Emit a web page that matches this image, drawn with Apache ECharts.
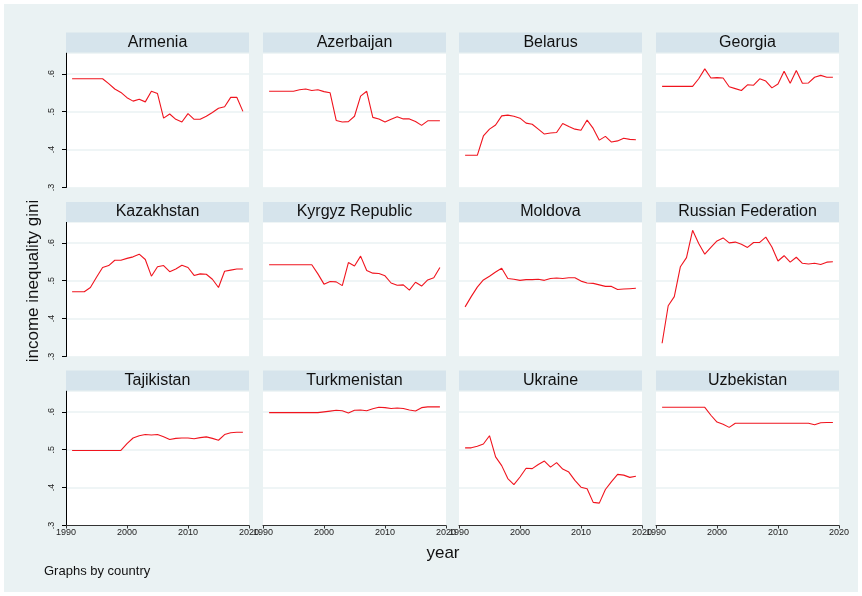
<!DOCTYPE html>
<html><head><meta charset="utf-8">
<script src="https://cdn.jsdelivr.net/npm/echarts@6/dist/echarts.min.js"></script>
<style>html,body{margin:0;padding:0;background:#fff}#c{width:862px;height:596px}</style>
</head><body><div id="c"></div>
<script>
// ---- data ----
const years = [1991,1992,1993,1994,1995,1996,1997,1998,1999,2000,2001,2002,2003,2004,2005,2006,2007,2008,2009,2010,2011,2012,2013,2014,2015,2016,2017,2018,2019];
const countries = ['Armenia','Azerbaijan','Belarus','Georgia','Kazakhstan','Kyrgyz Republic','Moldova','Russian Federation','Tajikistan','Turkmenistan','Ukraine','Uzbekistan'];
const armenia = [0.587,0.587,0.587,0.587,0.587,0.587,0.574,0.560,0.551,0.537,0.528,0.533,0.526,0.554,0.548,0.483,0.494,0.480,0.473,0.495,0.480,0.480,0.488,0.498,0.509,0.513,0.538,0.538,0.501];
const azerbaijan = [0.554,0.554,0.554,0.554,0.554,0.558,0.560,0.556,0.558,0.553,0.550,0.477,0.473,0.474,0.488,0.541,0.554,0.485,0.481,0.473,0.480,0.487,0.481,0.481,0.474,0.464,0.476,0.476,0.476];
const belarus = [0.385,0.385,0.385,0.436,0.454,0.465,0.489,0.491,0.488,0.483,0.470,0.467,0.454,0.441,0.444,0.445,0.469,0.461,0.454,0.451,0.478,0.456,0.425,0.435,0.420,0.423,0.430,0.427,0.426];
const georgia = [0.567,0.567,0.567,0.567,0.567,0.567,0.587,0.613,0.589,0.590,0.589,0.566,0.561,0.556,0.571,0.570,0.587,0.581,0.563,0.573,0.607,0.575,0.609,0.575,0.576,0.591,0.596,0.591,0.591];
const kazakhstan = [0.471,0.471,0.471,0.482,0.509,0.535,0.540,0.554,0.554,0.559,0.563,0.570,0.556,0.512,0.537,0.540,0.524,0.531,0.541,0.535,0.514,0.518,0.517,0.504,0.482,0.525,0.528,0.531,0.531];
const kyrgyz = [0.542,0.542,0.542,0.542,0.542,0.542,0.542,0.542,0.518,0.491,0.498,0.497,0.487,0.548,0.539,0.565,0.527,0.520,0.519,0.513,0.494,0.488,0.489,0.475,0.496,0.486,0.502,0.508,0.535];
const moldova = [0.431,0.458,0.483,0.502,0.512,0.523,0.533,0.506,0.504,0.501,0.503,0.503,0.504,0.501,0.506,0.507,0.506,0.508,0.508,0.499,0.494,0.493,0.489,0.485,0.485,0.477,0.478,0.479,0.480];
const russia = [0.335,0.434,0.458,0.537,0.561,0.633,0.598,0.570,0.588,0.605,0.613,0.600,0.602,0.596,0.588,0.601,0.601,0.615,0.589,0.552,0.566,0.549,0.562,0.546,0.544,0.546,0.543,0.549,0.550];
const tajikistan = [0.498,0.498,0.498,0.498,0.498,0.498,0.498,0.498,0.498,0.516,0.531,0.537,0.540,0.539,0.540,0.534,0.527,0.530,0.531,0.531,0.529,0.532,0.534,0.530,0.525,0.540,0.545,0.546,0.546];
const turkmenistan = [0.598,0.598,0.598,0.598,0.598,0.598,0.598,0.598,0.598,0.600,0.602,0.604,0.603,0.597,0.604,0.605,0.603,0.608,0.612,0.611,0.609,0.610,0.609,0.605,0.602,0.611,0.613,0.613,0.613];
const ukraine = [0.505,0.505,0.509,0.515,0.537,0.481,0.458,0.424,0.408,0.428,0.451,0.450,0.461,0.470,0.454,0.466,0.449,0.441,0.419,0.401,0.397,0.361,0.359,0.395,0.416,0.435,0.433,0.427,0.430];
const uzbekistan = [0.612,0.612,0.612,0.612,0.612,0.612,0.612,0.612,0.591,0.573,0.567,0.559,0.570,0.570,0.570,0.570,0.570,0.570,0.570,0.570,0.570,0.570,0.570,0.570,0.570,0.566,0.571,0.572,0.572];
const seriesValues = [armenia,azerbaijan,belarus,georgia,kazakhstan,kyrgyz,moldova,russia,tajikistan,turkmenistan,ukraine,uzbekistan];
const xTicks = [1990,2000,2010,2020];
const yTicks = [0.3,0.4,0.5,0.6];

// ---- layout ----
const FONT = "'Liberation Sans', Arial, sans-serif";
const BG = '#EAF2F3';
const colLeft = [66,263,459,656], plotW = 183;
const rowTop = [53,222,391], plotH = 134.5;
const headTop = [32.5,202,370.5], headH = 20;

const chart = echarts.init(document.getElementById('c'));
const grids = [], xAxes = [], yAxes = [], series = [];
const graphics = [
  {type:'rect', shape:{x:0,y:0,width:862,height:596}, style:{fill:BG}, z:-10},
  {type:'rect', shape:{x:2,y:2,width:858,height:592}, style:{fill:'none', stroke:'#fff', lineWidth:4}, z:-9}
];
countries.forEach((name,i)=>{
  const r = Math.floor(i/4), c = i%4;
  grids.push({left:colLeft[c], top:rowTop[r], width:plotW, height:plotH, show:true, backgroundColor:'#fff', borderWidth:0, containLabel:false});
  const bottomRow = r===2, firstCol = c===0;
  xAxes.push({type:'value', gridIndex:i, min:1990, max:2020, interval:10,
    axisLine:{show:bottomRow, lineStyle:{color:'#333', width:1}},
    axisTick:{show:bottomRow, length:3, lineStyle:{color:'#333'}},
    axisLabel:{show:bottomRow, fontSize:9, color:'#222', fontFamily:FONT, margin:3, showMinLabel:true, showMaxLabel:true, hideOverlap:false,
      formatter:v=> xTicks.includes(Math.round(v)) ? String(Math.round(v)) : ''},
    splitLine:{show:false}});
  yAxes.push({type:'value', gridIndex:i, min:0.3, max:0.655, interval:0.1,
    axisLine:{show:firstCol, lineStyle:{color:'#000', width:1}},
    axisTick:{show:firstCol, length:4, lineStyle:{color:'#000'}},
    axisLabel:{show:firstCol, rotate:90, fontSize:9, color:'#222', fontFamily:FONT, margin:10,
      showMaxLabel:false,
      formatter:v=> yTicks.some(t=>Math.abs(t-v)<1e-6) ? v.toFixed(1).replace(/^0/,'') : ''},
    splitLine:{show:true, lineStyle:{color:BG, width:1.5}}});
  series.push({type:'line', xAxisIndex:i, yAxisIndex:i, showSymbol:false, symbol:'none',
    lineStyle:{color:'#F0141E', width:1.1}, itemStyle:{color:'#F0141E'}, animation:false,
    data: years.map((y,k)=>[y, seriesValues[i][k]])});
  graphics.push({type:'rect', shape:{x:colLeft[c], y:headTop[r], width:plotW, height:headH}, style:{fill:'#D6E4EC'}, z:1});
  graphics.push({type:'text', x:colLeft[c]+plotW/2, y:headTop[r]+headH/2, z:2,
    style:{text:name, fill:'#111', font:'16px '+FONT, textAlign:'center', textVerticalAlign:'middle'}});
});
graphics.push({type:'text', x:33, y:281, rotation:Math.PI/2, z:2,
  style:{text:'income inequality gini', fill:'#111', font:'17px '+FONT, textAlign:'center', textVerticalAlign:'middle'}});
graphics.push({type:'text', x:443, y:553, z:2,
  style:{text:'year', fill:'#111', font:'17px '+FONT, textAlign:'center', textVerticalAlign:'middle'}});
graphics.push({type:'text', x:44, y:571, z:2,
  style:{text:'Graphs by country', fill:'#111', font:'13px '+FONT, textAlign:'left', textVerticalAlign:'middle'}});

chart.setOption({
  animation:false,
  backgroundColor:BG,
  grid:grids, xAxis:xAxes, yAxis:yAxes, series:series,
  graphic:graphics
});
</script></body></html>
